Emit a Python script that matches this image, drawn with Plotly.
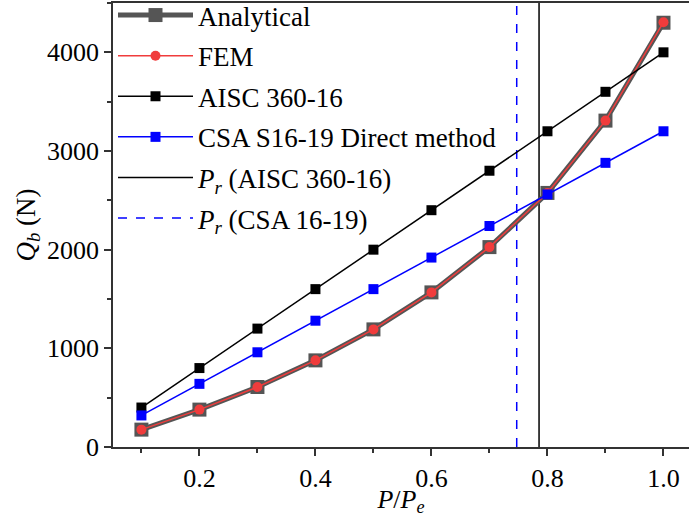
import plotly.graph_objects as go

# ---- data ----
ratio = [0.1, 0.2, 0.3, 0.4, 0.5, 0.6, 0.7, 0.8, 0.9, 1.0]
analytical = [176, 379, 608, 878, 1192, 1567, 2026, 2575, 3308, 4300]
fem = [176, 379, 608, 878, 1192, 1567, 2026, 2575, 3308, 4305]
aisc = [400, 800, 1200, 1600, 2000, 2400, 2800, 3200, 3600, 4000]
csa = [320, 640, 960, 1280, 1600, 1920, 2240, 2560, 2880, 3200]
pr_aisc_x = [0.7855, 0.7855]
pr_csa_x = [0.747, 0.747]
pr_y = [0, 4500]
x_ticks = [0.2, 0.4, 0.6, 0.8, 1.0]
x_ticktext = ["0.2", "0.4", "0.6", "0.8", "1.0"]
y_ticks = [0, 1000, 2000, 3000, 4000]

FONT = "Liberation Serif"
fig = go.Figure()

fig.add_trace(go.Scatter(x=pr_aisc_x, y=pr_y, mode="lines", name="<i>P<sub>r</sub></i> (AISC 360-16)",
                         line=dict(color="black", width=1.5), legendrank=5, legendgroup="e"))
fig.add_trace(go.Scatter(x=pr_csa_x, y=pr_y, mode="lines", name="<i>P<sub>r</sub></i> (CSA 16-19)",
                         line=dict(color="#0000ff", width=1.5, dash="9px,9px"), legendrank=6, legendgroup="f"))
fig.add_trace(go.Scatter(x=ratio, y=analytical, mode="lines+markers", name="Analytical",
                         line=dict(color="#555555", width=5),
                         marker=dict(symbol="square", size=14, color="#555555"), legendrank=1, legendgroup="a"))
fig.add_trace(go.Scatter(x=ratio, y=fem, mode="lines+markers", name="FEM",
                         line=dict(color="#f03c3c", width=1.5),
                         marker=dict(symbol="circle", size=10, color="#f03c3c"), legendrank=2, legendgroup="b"))
fig.add_trace(go.Scatter(x=ratio, y=aisc, mode="lines+markers", name="AISC 360-16",
                         line=dict(color="black", width=1.5),
                         marker=dict(symbol="square", size=10, color="black"), legendrank=3, legendgroup="c"))
fig.add_trace(go.Scatter(x=ratio, y=csa, mode="lines+markers", name="CSA S16-19 Direct method",
                         line=dict(color="#0000ff", width=1.5),
                         marker=dict(symbol="square", size=10, color="#0000ff"), legendrank=4, legendgroup="d"))

fig.update_layout(
    width=689, height=517,
    margin=dict(l=113, r=0, t=3, b=70, autoexpand=False),
    paper_bgcolor="white", plot_bgcolor="white",
    font=dict(family=FONT, size=26, color="black"),
    showlegend=True,
    legend=dict(x=0.0, y=1.027, xanchor="left", yanchor="top", bgcolor="rgba(0,0,0,0)",
                font=dict(size=27), itemwidth=75, tracegroupgap=2.5, traceorder="grouped",
                maxheight=600),
    xaxis=dict(range=[0.051, 1.044], showline=True, linecolor="#333333", linewidth=1.5, mirror=True,
               ticks="outside", ticklen=7, tickwidth=1.5, tickcolor="#333333",
               tickvals=x_ticks, ticktext=x_ticktext,
               showgrid=False, zeroline=False,
               minor=dict(ticks="outside", ticklen=4, tickwidth=1.5, tickcolor="#333333", dtick=0.1, tick0=0.1, showgrid=False),
               title=dict(text="<i>P</i>/<i>P<sub>e</sub></i>", font=dict(size=26), standoff=0)),
    yaxis=dict(range=[0, 4500], showline=True, linecolor="#333333", linewidth=1.5, mirror=False,
               ticks="outside", ticklen=7, tickwidth=1.5, tickcolor="#333333",
               tickvals=y_ticks,
               showgrid=False, zeroline=False,
               minor=dict(ticks="outside", ticklen=4, tickwidth=1.5, tickcolor="#333333", dtick=500, tick0=0, showgrid=False),
               title=dict(text="<i>Q<sub>b</sub></i> (N)", font=dict(size=27), standoff=4)),
)

fig.write_html("out.html", config={"displayModeBar": False},
               post_script="document.body.style.margin='0px';")
